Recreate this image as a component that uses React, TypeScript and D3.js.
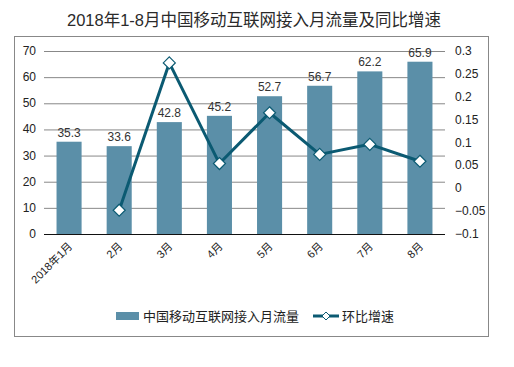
import React from 'react'
import * as d3 from 'd3'

const width = 514
const height = 367
const barColor = '#5b8fa8'
const lineColor = '#0b5a72'
const margin = { top: 51, right: 69, bottom: 133, left: 44 }

const months = ['2018年1月', '2月', '3月', '4月', '5月', '6月', '7月', '8月']
const traffic = [35.3, 33.6, 42.8, 45.2, 52.7, 56.7, 62.2, 65.9]
// month-on-month growth, January has no value
const growth: (number | null)[] = [null, -0.048, 0.274, 0.054, 0.165, 0.074, 0.096, 0.059]
const leftTicks = [0, 10, 20, 30, 40, 50, 60, 70]
const rightTicks = [-0.1, -0.05, 0, 0.05, 0.1, 0.15, 0.2, 0.25, 0.3]

const title = '2018年1-8月中国移动互联网接入月流量及同比增速'
const barName = '中国移动互联网接入月流量'
const lineName = '环比增速'

const x = d3
  .scaleBand()
  .domain(months)
  .range([margin.left, width - margin.right])
  .paddingInner(0.5)
  .paddingOuter(0.25)

const y = d3.scaleLinear().domain([0, 70]).range([height - margin.bottom, margin.top])
const y2 = d3.scaleLinear().domain([-0.1, 0.3]).range([height - margin.bottom, margin.top])

const font = 'Arial, "Liberation Sans", "Noto Sans CJK SC", sans-serif'

const diamond = (cx: number, cy: number, r: number) =>
  `M${cx},${cy - r}L${cx + r},${cy}L${cx},${cy + r}L${cx - r},${cy}Z`

const App = () => {
  const pts = months
    .map((m, i) => ({ m, v: growth[i] }))
    .filter(d => d.v !== null) as { m: string; v: number }[]
  const line = d3
    .line<{ m: string; v: number }>()
    .x(d => (x(d.m) as number) + x.bandwidth() / 2)
    .y(d => y2(d.v))

  const x0 = margin.left
  const x1 = width - margin.right

  return (
    <svg width={width} height={height} style={{ position: 'absolute', left: 0, top: 0 }} fontFamily={font}>
      <rect x={0} y={0} width={width} height={height} fill="#fff" />
      <text x={254} y={26} textAnchor="middle" fontSize={16.5} fill="#2a2a2a">
        {title}
      </text>
      <rect x={14.5} y={36.5} width={474} height={300} fill="none" stroke="#888" />

      {leftTicks.map(t => (
        <g key={'l' + t}>
          {t !== 0 && <line x1={x0} x2={x1} y1={y(t) + 0.5} y2={y(t) + 0.5} stroke="#888" />}
          <text x={36} y={y(t) + 4} textAnchor="end" fontSize={12} fill="#222">
            {t}
          </text>
        </g>
      ))}
      {rightTicks.map(t => (
        <text key={'r' + t} x={455} y={y2(t) + 4} fontSize={12} fill="#222">
          {d3.format('')(+t.toFixed(2))}
        </text>
      ))}

      {months.map((m, i) => (
        <g key={m}>
          <rect
            x={x(m)}
            y={y(traffic[i])}
            width={x.bandwidth()}
            height={y(0) - y(traffic[i])}
            fill={barColor}
          />
          <text
            x={(x(m) as number) + x.bandwidth() / 2}
            y={y(traffic[i]) - 5}
            textAnchor="middle"
            fontSize={12}
            fill="#333"
          >
            {traffic[i]}
          </text>
          <text
            transform={`translate(${(x(m) as number) + x.bandwidth() / 2 + 4},${y(0) + 13}) rotate(-45)`}
            textAnchor="end"
            fontSize={11}
            fill="#222"
          >
            {m}
          </text>
        </g>
      ))}
      <line x1={x0} x2={x1} y1={y(0) + 0.5} y2={y(0) + 0.5} stroke="#111" />

      <path d={line(pts) as string} fill="none" stroke={lineColor} strokeWidth={3} strokeLinejoin="round" />
      {pts.map(d => (
        <path
          key={'p' + d.m}
          d={diamond((x(d.m) as number) + x.bandwidth() / 2, y2(d.v), 6)}
          fill="#fff"
          stroke={lineColor}
          strokeWidth={1.2}
        />
      ))}

      <rect x={116} y={312} width={23} height={8} fill={barColor} />
      <text x={143} y={321} fontSize={13} fill="#222">
        {barName}
      </text>
      <line x1={313} x2={339} y1={316} y2={316} stroke={lineColor} strokeWidth={3} />
      <path d={diamond(326, 316, 4)} fill="#fff" stroke={lineColor} strokeWidth={1} />
      <text x={342} y={321} fontSize={13} fill="#222">
        {lineName}
      </text>
    </svg>
  )
}

export default App
